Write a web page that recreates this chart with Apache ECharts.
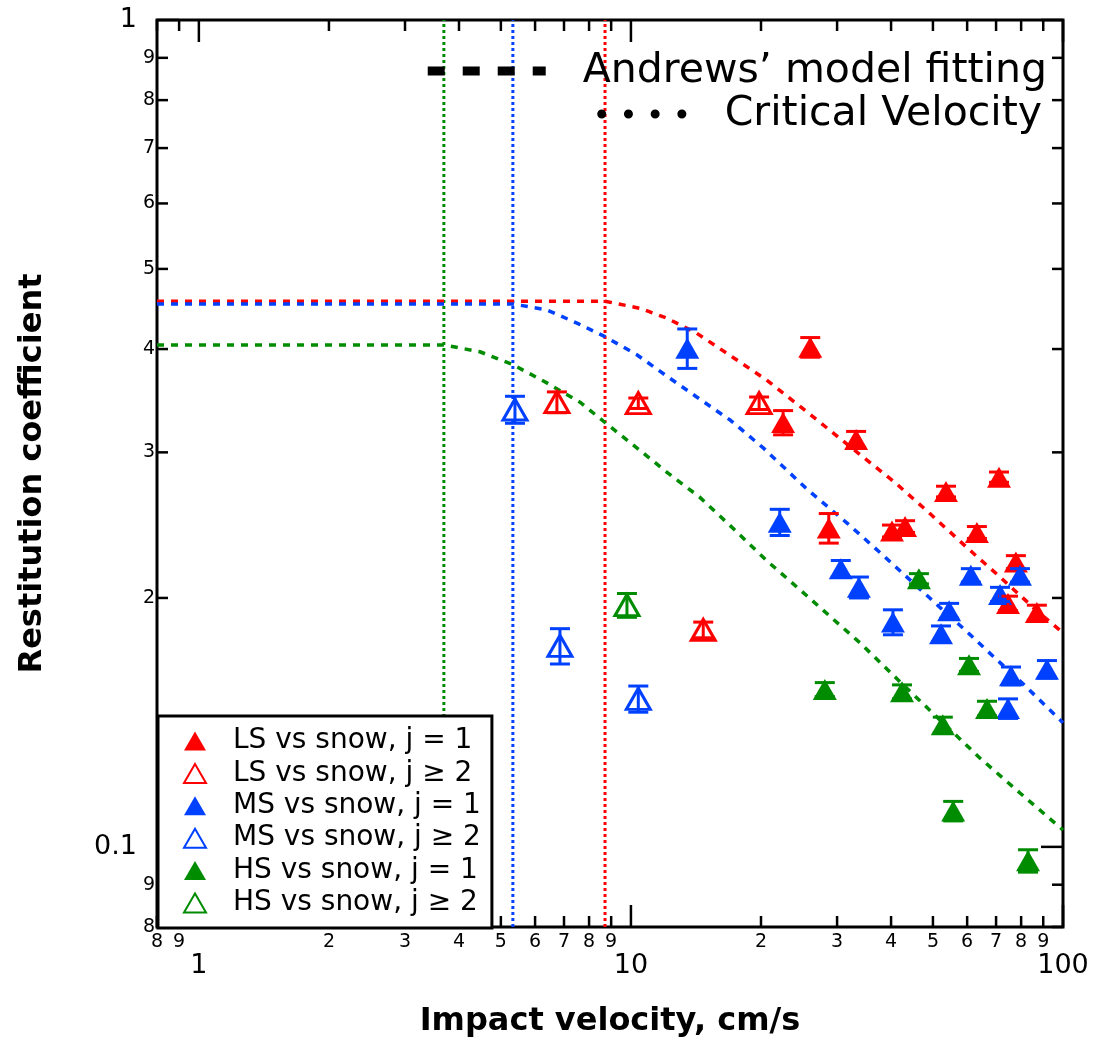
<!DOCTYPE html>
<html>
<head>
<meta charset="utf-8">
<script src="https://cdn.jsdelivr.net/npm/echarts/dist/echarts.min.js"></script>
<style>
html,body{margin:0;padding:0;background:#fff;}
#chart{width:1095px;height:1050px;}
</style>
</head>
<body>
<div id="chart"></div>
<script>
// ---------------- data ----------------
// LS vs snow, j = 1 (filled red)
const lsJ1V   = [26.0, 22.5, 33.2, 71.1, 53.6, 28.7, 40.2, 43.1, 63.2, 77.8, 74.6, 87.0];
const lsJ1E   = [0.402, 0.326, 0.311, 0.280, 0.269, 0.243, 0.241, 0.244, 0.240, 0.221, 0.197, 0.192];
const lsJ1Err = [0.011, 0.011, 0.007, 0.004, 0.004, 0.010, 0.004, 0.004, 0.004, 0.004, 0.004, 0.004];
// LS vs snow, j >= 2 (open red)
const lsJ2V   = [6.74, 10.4, 19.8, 14.7];
const lsJ2E   = [0.345, 0.344, 0.344, 0.183];
const lsJ2Err = [0.010, 0.005, 0.006, 0.004];
// MS vs snow, j = 1 (filled blue)
const msJ1V   = [13.5, 22.1, 30.6, 33.7, 61.2, 79.5, 71.5, 54.5, 40.4, 52.2, 75.8, 91.8, 74.6];
const msJ1E   = [0.401, 0.247, 0.217, 0.206, 0.213, 0.213, 0.202, 0.193, 0.187, 0.181, 0.161, 0.164, 0.147];
const msJ1Err = [0.022, 0.009, 0.005, 0.006, 0.004, 0.004, 0.004, 0.004, 0.0065, 0.004, 0.004, 0.004, 0.004];
// MS vs snow, j >= 2 (open blue)
const msJ2V   = [5.39, 6.85, 10.4];
const msJ2E   = [0.338, 0.175, 0.151];
const msJ2Err = [0.0127, 0.0086, 0.0055];
// HS vs snow, j = 1 (filled green)
const hsJ1V   = [46.4, 60.6, 28.1, 42.4, 66.7, 52.7, 55.7, 83.0];
const hsJ1E   = [0.211, 0.166, 0.155, 0.154, 0.147, 0.1405, 0.1105, 0.0962];
const hsJ1Err = [0.003, 0.003, 0.003, 0.003, 0.003, 0.003, 0.003, 0.003];
// HS vs snow, j >= 2 (open green)
const hsJ2V   = [9.79];
const hsJ2E   = [0.196];
const hsJ2Err = [0.0065];

// Andrews' model fitting curves
const lsFitV = [0.8, 6.0, 8.71, 10.5, 12.1, 14.2, 17.2, 20.6, 25.7, 33.4, 40.8, 49.2, 60.0, 71.5, 87.0, 100];
const lsFitE = [0.457, 0.457, 0.457, 0.448, 0.436, 0.418, 0.391, 0.367, 0.335, 0.300, 0.276, 0.253, 0.230, 0.212, 0.193, 0.1815];
const msFitV = [0.8, 4.0, 5.33, 6.39, 7.50, 8.71, 10.3, 12.1, 14.2, 17.0, 20.2, 25.7, 31.6, 37.7, 45.0, 51.9, 60.0, 68.9, 80.8, 100];
const msFitE = [0.4535, 0.4535, 0.4535, 0.446, 0.430, 0.414, 0.394, 0.371, 0.350, 0.328, 0.304, 0.270, 0.2465, 0.227, 0.2086, 0.1948, 0.182, 0.170, 0.1575, 0.1413];
const hsFitV = [0.8, 3.0, 3.69, 4.47, 5.33, 6.39, 7.62, 8.71, 10.3, 12.1, 14.4, 17.2, 20.6, 25.7, 33.9, 42.0, 51.9, 64.3, 79.5, 100];
const hsFitE = [0.4046, 0.4046, 0.4046, 0.397, 0.383, 0.364, 0.345, 0.326, 0.304, 0.284, 0.265, 0.243, 0.222, 0.2006, 0.1765, 0.1583, 0.1424, 0.128, 0.1162, 0.1048];

// Critical velocities (LS, MS, HS)
const criticalV = [8.71, 5.33, 3.69];

// Axis ranges and tick labels
const xRange = [0.8, 100];
const yRange = [0.08, 1];
const xMinorTicks  = [0.8, 0.9, 2, 3, 4, 5, 6, 7, 8, 9, 20, 30, 40, 50, 60, 70, 80, 90];
const xMinorLabels = ['8', '9', '2', '3', '4', '5', '6', '7', '8', '9', '2', '3', '4', '5', '6', '7', '8', '9'];
const xMajorTicks  = [1, 10, 100];
const xMajorLabels = ['1', '10', '100'];
const yMinorTicks  = [0.08, 0.09, 0.2, 0.3, 0.4, 0.5, 0.6, 0.7, 0.8, 0.9];
const yMinorLabels = ['8', '9', '2', '3', '4', '5', '6', '7', '8', '9'];
const yMajorTicks  = [0.1, 1];
const yMajorLabels = ['0.1', '1'];

const seriesNames = ['LS vs snow, j = 1', 'LS vs snow, j \u2265 2', 'MS vs snow, j = 1',
                     'MS vs snow, j \u2265 2', 'HS vs snow, j = 1', 'HS vs snow, j \u2265 2'];
const fitName = 'Andrews\u2019 model fitting';
const critName = 'Critical Velocity';

// ---------------- styles ----------------
const RED = '#ff0000', BLUE = '#0040ff', GREEN = '#008c00';
const FONT = 'DejaVu Sans';
const zip = (a, b) => a.map((v, i) => [v, b[i]]);

function scatterSeries(name, xs, ys, color, open) {
  return {
    type: 'scatter', name: name, data: zip(xs, ys),
    symbol: 'triangle', symbolSize: [24, 21], z: 5, silent: true,
    itemStyle: open ? {color: '#ffffff', borderColor: color, borderWidth: 3, opacity: 1}
                    : {color: color, opacity: 1},
  };
}
function errSeries(xs, ys, errs, color) {
  return {
    type: 'custom', coordinateSystem: 'cartesian2d', z: 6, silent: true,
    data: xs.map((v, i) => [v, ys[i], errs[i]]),
    encode: {x: 0, y: 1},
    renderItem: function (params, api) {
      const x = api.value(0), y = api.value(1), e = api.value(2);
      const lo = api.coord([x, y - e]), hi = api.coord([x, y + e]);
      const st = {stroke: color, lineWidth: 3};
      const hw = 10;
      return {type: 'group', children: [
        {type: 'line', shape: {x1: lo[0], y1: lo[1], x2: hi[0], y2: hi[1]}, style: st},
        {type: 'line', shape: {x1: lo[0] - hw, y1: lo[1], x2: lo[0] + hw, y2: lo[1]}, style: st},
        {type: 'line', shape: {x1: hi[0] - hw, y1: hi[1], x2: hi[0] + hw, y2: hi[1]}, style: st}
      ]};
    }
  };
}
function fitSeries(xs, ys, color) {
  return {
    type: 'line', name: fitName, data: zip(xs, ys), symbol: 'none', showSymbol: false,
    smooth: false, silent: true, z: 3,
    lineStyle: {color: color, width: 3.5, type: [7, 7]},
    itemStyle: {color: color}
  };
}
function critSeries(v, color) {
  return {
    type: 'line', name: critName, data: [[v, yRange[0]], [v, yRange[1]]], symbol: 'none', showSymbol: false,
    silent: true, z: 2,
    lineStyle: {color: color, width: 3, type: [3, 3]},
    itemStyle: {color: color}
  };
}
function xTickSeries(values, labels, major) {
  return {
    type: 'custom', coordinateSystem: 'cartesian2d', z: 4, silent: true, clip: false,
    data: values.map(v => [v, yRange[0]]), encode: {x: 0, y: 1},
    renderItem: function (params, api) {
      const v = api.value(0);
      const b = api.coord([v, yRange[0]]), t = api.coord([v, yRange[1]]);
      const len = major ? 22 : 11;
      const st = {stroke: '#000', lineWidth: 2.5};
      return {type: 'group', children: [
        {type: 'line', shape: {x1: b[0], y1: b[1], x2: b[0], y2: b[1] - len}, style: st},
        {type: 'line', shape: {x1: t[0], y1: t[1], x2: t[0], y2: t[1] + len}, style: st},
        {type: 'text', x: b[0], y: b[1] + (major ? 39 : 15),
         style: {text: labels[params.dataIndex], fontSize: major ? 27 : 19, fontFamily: FONT,
                 fill: '#000', align: 'center', verticalAlign: 'middle'}}
      ]};
    }
  };
}
function yTickSeries(values, labels, major) {
  return {
    type: 'custom', coordinateSystem: 'cartesian2d', z: 4, silent: true, clip: false,
    data: values.map(v => [xRange[0], v]), encode: {x: 0, y: 1},
    renderItem: function (params, api) {
      const v = api.value(1);
      const l = api.coord([xRange[0], v]), r = api.coord([xRange[1], v]);
      const len = major ? 22 : 11;
      const st = {stroke: '#000', lineWidth: 2.5};
      return {type: 'group', children: [
        {type: 'line', shape: {x1: l[0], y1: l[1], x2: l[0] + len, y2: l[1]}, style: st},
        {type: 'line', shape: {x1: r[0], y1: r[1], x2: r[0] - len, y2: r[1]}, style: st},
        {type: 'text', x: l[0] - (major ? 20 : 2), y: l[1],
         style: {text: labels[params.dataIndex], fontSize: major ? 27 : 19, fontFamily: FONT,
                 fill: '#000', align: 'right', verticalAlign: 'middle'}}
      ]};
    }
  };
}

const transparent = {color: 'rgba(0,0,0,0)', borderWidth: 0, opacity: 0};

const option = {
  animation: false,
  backgroundColor: '#ffffff',
  grid: {left: 157, right: 32, top: 20, bottom: 123, show: true, borderColor: '#000', borderWidth: 3},
  xAxis: {
    type: 'log', logBase: 10, min: xRange[0], max: xRange[1],
    axisLine: {show: false}, axisTick: {show: false}, axisLabel: {show: false}, splitLine: {show: false},
    name: 'Impact velocity, cm/s', nameLocation: 'middle', nameGap: 79,
    nameTextStyle: {fontFamily: FONT, fontWeight: 'bold', fontSize: 32, color: '#000'}
  },
  yAxis: {
    type: 'log', logBase: 10, min: yRange[0], max: yRange[1],
    axisLine: {show: false}, axisTick: {show: false}, axisLabel: {show: false}, splitLine: {show: false},
    name: 'Restitution coefficient', nameLocation: 'middle', nameGap: 108,
    nameTextStyle: {fontFamily: FONT, fontWeight: 'bold', fontSize: 32, color: '#000'}
  },
  legend: [
    {
      data: seriesNames, orient: 'vertical', left: 158, bottom: 122,
      itemWidth: 22, itemHeight: 19, itemGap: 2.4, padding: [10, 11, 10, 25],
      backgroundColor: '#ffffff', borderColor: '#000', borderWidth: 3, borderRadius: 0,
      textStyle: {fontFamily: FONT, fontSize: 28, color: '#000', lineHeight: 30, padding: [0, 0, 0, 22]},
      selectedMode: false, z: 10
    },
    {
      data: [{name: fitName, itemStyle: transparent, lineStyle: {color: '#000', width: 9, type: [17, 18]}}],
      right: 48, top: 49, itemWidth: 118, itemHeight: 10, padding: 0,
      textStyle: {fontFamily: FONT, fontSize: 41, color: '#000', lineHeight: 44, padding: [0, 0, 0, 32]},
      selectedMode: false, z: 10
    },
    {
      data: [{name: critName, itemStyle: transparent, lineStyle: {color: '#000', width: 9, type: [0.01, 26.7], cap: 'round'}}],
      right: 53, top: 92, itemWidth: 86, itemHeight: 10, padding: 0,
      textStyle: {fontFamily: FONT, fontSize: 41, color: '#000', lineHeight: 44, padding: [0, 0, 0, 32]},
      selectedMode: false, z: 10
    }
  ],
  series: [
    critSeries(criticalV[0], RED), critSeries(criticalV[1], BLUE), critSeries(criticalV[2], GREEN),
    fitSeries(lsFitV, lsFitE, RED), fitSeries(msFitV, msFitE, BLUE), fitSeries(hsFitV, hsFitE, GREEN),
    scatterSeries(seriesNames[0], lsJ1V, lsJ1E, RED, false),
    scatterSeries(seriesNames[1], lsJ2V, lsJ2E, RED, true),
    scatterSeries(seriesNames[2], msJ1V, msJ1E, BLUE, false),
    scatterSeries(seriesNames[3], msJ2V, msJ2E, BLUE, true),
    scatterSeries(seriesNames[4], hsJ1V, hsJ1E, GREEN, false),
    scatterSeries(seriesNames[5], hsJ2V, hsJ2E, GREEN, true),
    errSeries(lsJ1V, lsJ1E, lsJ1Err, RED), errSeries(lsJ2V, lsJ2E, lsJ2Err, RED),
    errSeries(msJ1V, msJ1E, msJ1Err, BLUE), errSeries(msJ2V, msJ2E, msJ2Err, BLUE),
    errSeries(hsJ1V, hsJ1E, hsJ1Err, GREEN), errSeries(hsJ2V, hsJ2E, hsJ2Err, GREEN),
    xTickSeries(xMinorTicks, xMinorLabels, false), xTickSeries(xMajorTicks, xMajorLabels, true),
    yTickSeries(yMinorTicks, yMinorLabels, false), yTickSeries(yMajorTicks, yMajorLabels, true)
  ]
};

const chart = echarts.init(document.getElementById('chart'), null, {renderer: 'canvas'});
chart.setOption(option);
</script>
</body>
</html>
